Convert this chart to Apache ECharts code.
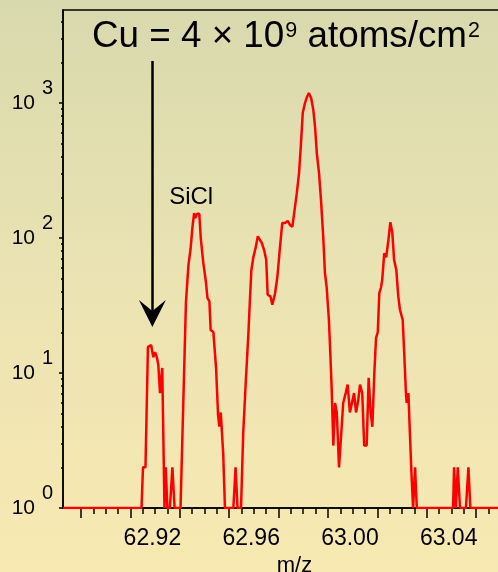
<!DOCTYPE html>
<html>
<head>
    <meta charset="utf-8">
    <title>Cu SIMS spectrum</title>
    <script src="https://cdn.jsdelivr.net/npm/echarts@6/dist/echarts.min.js"></script>
    <style>
        html, body { margin: 0; padding: 0; }
        #main { width: 498px; height: 572px; }
    </style>
</head>
<body>
<div id="main"></div>
<script>
    // m/z positions and counts
    var mz = [
        62.8927, 62.9245, 62.9251, 62.9261, 62.9271, 62.9284, 62.9293, 62.9300, 62.9307, 62.9313,
        62.9320, 62.9324, 62.9329, 62.9338, 62.9343, 62.9350, 62.9360, 62.9370, 62.9379, 62.9403,
        62.9425, 62.9435, 62.9444, 62.9451, 62.9458, 62.9463, 62.9470, 62.9479, 62.9485, 62.9495,
        62.9506, 62.9512, 62.9520, 62.9525, 62.9536, 62.9547, 62.9555, 62.9560, 62.9566, 62.9576,
        62.9583, 62.9617, 62.9626, 62.9634, 62.9648, 62.9657, 62.9667, 62.9678, 62.9684, 62.9690,
        62.9698, 62.9708, 62.9716, 62.9722, 62.9732, 62.9742, 62.9750, 62.9756, 62.9761, 62.9767,
        62.9775, 62.9786, 62.9795, 62.9806, 62.9815, 62.9826, 62.9837, 62.9846, 62.9856, 62.9864,
        62.9874, 62.9883, 62.9890, 62.9898, 62.9907, 62.9915, 62.9923, 62.9932, 62.9941, 62.9948,
        62.9955, 62.9964, 62.9972, 62.9981, 62.9988, 62.9995, 63.0004, 63.0008, 63.0015, 63.0022,
        63.0029, 63.0036, 63.0045, 63.0053, 63.0062, 63.0072, 63.0080, 63.0089, 63.0106, 63.0114,
        63.0123, 63.0130, 63.0139, 63.0147, 63.0157, 63.0165, 63.0173, 63.0180, 63.0188, 63.0195,
        63.0202, 63.0208, 63.0215, 63.0220, 63.0228, 63.0236, 63.0245, 63.0253, 63.0261, 63.0268,
        63.0277, 63.0285, 63.0292, 63.0303, 63.0309, 63.0316, 63.0319, 63.0326, 63.0332, 63.0339,
        63.0345, 63.0353, 63.0360, 63.0507, 63.0511, 63.0518, 63.0526, 63.0535, 63.0559, 63.0569,
        63.0577, 63.0697
    ];
    var counts = [
        1, 1, 2, 2, 15.6, 16.1, 13.1, 14.3, 13.1, 11.5,
        7.1, 7.1, 10.9, 1, 2, 1, 1, 2, 1, 1,
        33.6, 63, 84, 119, 153, 141, 151, 151, 100, 66,
        47, 36, 34, 20.8, 20.1, 10.9, 4.9, 4.0, 5.1, 2.5,
        1, 1, 2, 1, 1, 3.6, 8.4, 19.8, 34.7, 58,
        72, 86, 103, 103, 92, 81, 69, 38, 39, 37,
        32, 39, 51, 86, 129, 129, 134, 125, 121, 119,
        215, 303, 472, 843, 1000, 1108, 1186, 1089, 888, 664,
        426, 303, 191, 102, 55, 43, 24.7, 16.7, 7.9, 2.9,
        6.0, 5.1, 2, 2, 6.0, 7.1, 8.2, 5.1, 7.1, 5.1,
        6.3, 8.2, 7.1, 2.9, 2.9, 9.2, 5.1, 4.0, 10, 18.2,
        20.1, 39, 43, 49, 77, 72, 97, 131, 109, 69,
        58, 37, 29.3, 24.7, 14.1, 7.1, 6.0, 7.1, 3.6, 1.7,
        1, 2, 1, 1, 2, 1, 2, 1, 1, 2,
        1, 1
    ];

    var xMajorTicks = [62.90, 62.92, 62.94, 62.96, 62.98, 63.00, 63.02, 63.04, 63.06];
    var xMinorTicks = [62.905, 62.91, 62.915, 62.925, 62.93, 62.935, 62.945, 62.95, 62.955,
        62.965, 62.97, 62.975, 62.985, 62.99, 62.995, 63.005, 63.01, 63.015,
        63.025, 63.03, 63.035, 63.045, 63.05, 63.055, 63.065];
    var xLabels = [62.92, 62.96, 63.00, 63.04];
    var yMajorTicks = [1, 10, 100, 1000];
    var yMinorTicks = [2, 3, 4, 5, 6, 7, 8, 9, 20, 30, 40, 50, 60, 70, 80, 90,
        200, 300, 400, 500, 600, 700, 800, 900, 2000, 3000, 4000];

    var xMin = 62.8927, xMax = 63.0697;
    var yMin = 1, yMax = 4890;
    var font = 'Liberation Sans, Arial, Helvetica, sans-serif';

    var points = [];
    for (var i = 0; i < mz.length; i++) {
        points.push([mz[i], counts[i]]);
    }

    var myChart = echarts.init(document.getElementById('main'));
    var option = {
        animation: false,
        backgroundColor: {
            type: 'linear', x: 0, y: 0, x2: 0, y2: 1,
            colorStops: [
                {offset: 0, color: '#d8d9ae'},
                {offset: 0.5, color: '#ebe3b2'},
                {offset: 1, color: '#f8e9b2'}
            ]
        },
        title: {
            text: '{a|Cu = 4 × 10}{s|9}{a| atoms/cm}{s|2}',
            left: 92,
            top: 18,
            padding: 0,
            textStyle: {
                fontWeight: 'normal',
                rich: {
                    a: {fontFamily: font, fontSize: 36.8, fontWeight: 'normal', color: '#000', verticalAlign: 'bottom', lineHeight: 37},
                    s: {fontFamily: font, fontSize: 21.5, fontWeight: 'normal', color: '#000', verticalAlign: 'bottom', padding: [0, 0, 13, 1]}
                }
            }
        },
        grid: {
            left: 63,
            top: 10,
            width: 437,
            height: 498,
            outerBoundsMode: 'none',
            containLabel: false,
            show: true,
            borderColor: '#000',
            borderWidth: 1.5,
            backgroundColor: 'transparent'
        },
        xAxis: [
            {
                type: 'value',
                min: xMin,
                max: xMax,
                position: 'bottom',
                name: 'm/z',
                nameLocation: 'middle',
                nameGap: 45,
                nameTextStyle: {fontFamily: font, fontSize: 22, color: '#000', padding: [0, 0, 0, 26]},
                axisLine: {lineStyle: {color: '#000', width: 1.5}},
                axisTick: {customValues: xMajorTicks, length: 10, lineStyle: {color: '#000', width: 1.5}},
                axisLabel: {
                    customValues: xLabels,
                    formatter: function (v) { return v.toFixed(2); },
                    fontFamily: font, fontSize: 23, color: '#000',
                    margin: 19,
                    padding: [0, 0, 0, 44]
                },
                splitLine: {show: false}
            },
            {
                type: 'value',
                min: xMin,
                max: xMax,
                position: 'bottom',
                axisLine: {show: false},
                axisTick: {customValues: xMinorTicks, length: 6, lineStyle: {color: '#000', width: 1.5}},
                axisLabel: {show: false},
                splitLine: {show: false}
            }
        ],
        yAxis: [
            {
                // decade ticks, "10" base of the labels
                type: 'log',
                min: yMin,
                max: yMax,
                position: 'left',
                axisLine: {show: true, lineStyle: {color: '#000', width: 1.5}},
                axisTick: {show: true, customValues: yMajorTicks, length: 4, lineStyle: {color: '#000', width: 1.5}},
                axisLabel: {
                    customValues: yMajorTicks,
                    margin: 28,
                    padding: [2, 0, 0, 0],
                    formatter: function () { return '10'; },
                    fontFamily: font, fontSize: 21, color: '#000'
                },
                splitLine: {show: false}
            },
            {
                // minor ticks, exponent of the labels
                type: 'log',
                min: yMin,
                max: yMax,
                position: 'left',
                axisLine: {show: false},
                axisTick: {show: true, customValues: yMinorTicks, length: 2, lineStyle: {color: '#000', width: 1.5}},
                axisLabel: {
                    customValues: yMajorTicks,
                    margin: 10,
                    verticalAlign: 'bottom',
                    padding: [0, 0, 5, 0],
                    formatter: function (v) { return String(Math.round(Math.log10(v))); },
                    fontFamily: font, fontSize: 20, color: '#000'
                },
                splitLine: {show: false}
            }
        ],
        series: [
            {
                name: 'counts',
                type: 'line',
                xAxisIndex: 0,
                yAxisIndex: 0,
                data: points,
                showSymbol: false,
                symbol: 'none',
                lineStyle: {color: '#ff0000', width: 2.5},
                markLine: {
                    silent: true,
                    symbol: ['none', 'path://M13,0 L26,27 L13,16 L0,27 Z'],
                    symbolSize: [27, 27],
                    label: {show: false},
                    lineStyle: {color: '#000', width: 2.5, type: 'solid'},
                    data: [[{coord: [62.9289, 2050]}, {coord: [62.9289, 27.6]}]]
                },
                markPoint: {
                    silent: true,
                    symbol: 'circle',
                    symbolSize: 0,
                    label: {show: true, position: 'inside', formatter: 'SiCl', fontFamily: font, fontSize: 24, color: '#000'},
                    data: [{coord: [62.9446, 201]}]
                }
            }
        ]
    };
    myChart.setOption(option);
</script>
</body>
</html>
